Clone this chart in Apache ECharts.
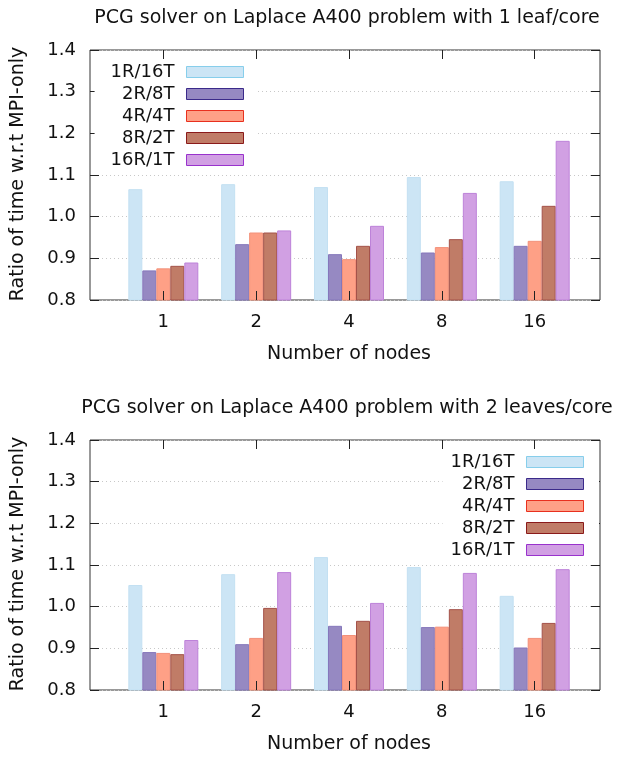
<!DOCTYPE html>
<html>
<head>
<meta charset="utf-8">
<script src="https://cdn.jsdelivr.net/npm/echarts@6/dist/echarts.min.js"></script>
<style>
  html, body { margin: 0; padding: 0; background: #fff; }
  #chart { width: 618px; height: 757px; }
</style>
</head>
<body>
<div id="chart"></div>
<script>
// categories
const nodes = ['1', '2', '4', '8', '16'];
const configs = ['1R/16T', '2R/8T', '4R/4T', '8R/2T', '16R/1T'];

// 1 leaf/core
const oneLeaf_1R16T = [1.066, 1.078, 1.071, 1.095, 1.085];
const oneLeaf_2R8T  = [0.871, 0.934, 0.910, 0.914, 0.930];
const oneLeaf_4R4T  = [0.876, 0.962, 0.898, 0.927, 0.942];
const oneLeaf_8R2T  = [0.882, 0.962, 0.930, 0.946, 1.026];
const oneLeaf_16R1T = [0.890, 0.967, 0.978, 1.057, 1.182];

// 2 leaves/core
const twoLeaves_1R16T = [1.052, 1.078, 1.119, 1.095, 1.026];
const twoLeaves_2R8T  = [0.891, 0.910, 0.954, 0.951, 0.902];
const twoLeaves_4R4T  = [0.889, 0.925, 0.932, 0.952, 0.925];
const twoLeaves_8R2T  = [0.886, 0.997, 0.966, 0.994, 0.961];
const twoLeaves_16R1T = [0.920, 1.083, 1.009, 1.081, 1.090];

// 颜色: 填充, 柱子边框, 图例边框
const fills       = ['#cce5f5', '#9689c2', '#fea086', '#c07c67', '#d1a0e3'];
const barBorders  = ['#c3e0f2', '#8577bb', '#f2917a', '#a4524a', '#bd82d9'];
const legBorders  = ['#87ceeb', '#3b2a8a', '#e8301e', '#8b1a1a', '#9932cc'];

const FONT = 'DejaVu Sans';
const chart = echarts.init(document.getElementById('chart'));

const panels = [
    { title: 'PCG solver on Laplace A400 problem with 1 leaf/core', top: 50,
      data: [oneLeaf_1R16T, oneLeaf_2R8T, oneLeaf_4R4T, oneLeaf_8R2T, oneLeaf_16R1T],
      legend: { right: 361, padding: [3, 13, 3, 16] } },
    { title: 'PCG solver on Laplace A400 problem with 2 leaves/core', top: 440,
      data: [twoLeaves_1R16T, twoLeaves_2R8T, twoLeaves_4R4T, twoLeaves_8R2T, twoLeaves_16R1T],
      legend: { right: 19, padding: [3, 15, 3, 8] } }
];

const PLOT_H = 250;
const grid = [], xAxis = [], yAxis = [], series = [], legend = [], graphic = [];

panels.forEach((p, k) => {
    const g0 = grid.length;
    // 外框
    grid.push({ left: 90, top: p.top, width: 510, height: PLOT_H, show: true,
                borderColor: '#333', borderWidth: 1, backgroundColor: 'transparent' });
    // 柱子区域 (类目中心与刻度对齐)
    grid.push({ left: 116.9, top: p.top, width: 464.2, height: PLOT_H });

    const tick = { show: true, inside: true, length: 9, lineStyle: { color: '#222' } };

    xAxis.push({ gridIndex: g0, type: 'value', min: 0, max: 1, show: false });
    xAxis.push({
        gridIndex: g0 + 1, type: 'category', data: nodes, position: 'bottom', z: 5,
        axisLine: { show: false },
        axisTick: Object.assign({ alignWithLabel: true }, tick),
        axisLabel: { margin: 13, fontSize: 18, color: '#111', fontFamily: FONT },
        name: 'Number of nodes', nameLocation: 'middle', nameGap: 45,
        nameTextStyle: { fontSize: 19, color: '#111', fontFamily: FONT }
    });
    xAxis.push({
        gridIndex: g0 + 1, type: 'category', data: nodes, position: 'top', z: 5,
        axisLine: { show: false },
        axisTick: Object.assign({ alignWithLabel: true }, tick),
        axisLabel: { show: false }
    });

    const yBase = { type: 'value', min: 0.8, max: 1.4, interval: 0.1 };
    yAxis.push(Object.assign({
        gridIndex: g0, position: 'left',
        axisLine: { show: false },
        axisTick: tick,
        axisLabel: { margin: 14, fontSize: 18, color: '#111', fontFamily: FONT,
                     formatter: v => v.toFixed(1) },
        splitLine: { show: true, lineStyle: { color: '#c8c8c8', type: [1, 3], width: 1 } }
    }, yBase));
    yAxis.push(Object.assign({
        gridIndex: g0, position: 'right',
        axisLine: { show: false }, axisTick: tick,
        axisLabel: { show: false }, splitLine: { show: false }
    }, yBase));
    yAxis.push(Object.assign({ gridIndex: g0 + 1, show: false, splitLine: { show: false } }, yBase));

    const xIdx = k * 3 + 1;
    const yIdx = k * 3 + 2;
    configs.forEach((name, i) => {
        series.push({
            name: name, type: 'bar', xAxisIndex: xIdx, yAxisIndex: yIdx,
            data: p.data[i], barWidth: 14, barGap: '0%',
            itemStyle: { color: fills[i], borderColor: barBorders[i], borderWidth: 1 },
            emphasis: { disabled: true }, silent: true
        });
    });

    legend.push({
        orient: 'vertical', align: 'right', right: p.legend.right, top: p.top + 10,
        padding: p.legend.padding, backgroundColor: '#fff',
        itemWidth: 57, itemHeight: 11, itemGap: 4,
        textStyle: { fontSize: 18, color: '#111', fontFamily: FONT,
                     padding: [0, 7, 0, 0] },
        selectedMode: false,
        data: configs.map((name, i) => ({
            name: name, icon: 'rect',
            itemStyle: { color: fills[i], borderColor: legBorders[i], borderWidth: 1 }
        }))
    });

    // 标题
    graphic.push({
        type: 'text', x: 347, y: p.top - 32,
        style: { text: p.title, fontSize: 19, fill: '#111', fontFamily: FONT,
                 align: 'center', verticalAlign: 'middle' }
    });
    // y轴名称
    graphic.push({
        type: 'text', x: 18, y: p.top + 124, rotation: Math.PI / 2,
        style: { text: 'Ratio of time w.r.t MPI-only', fontSize: 19, fill: '#111',
                 fontFamily: FONT, align: 'center', verticalAlign: 'middle' }
    });
});

chart.setOption({
    animation: false,
    grid: grid,
    xAxis: xAxis,
    yAxis: yAxis,
    legend: legend,
    graphic: graphic,
    series: series
});
</script>
</body>
</html>
